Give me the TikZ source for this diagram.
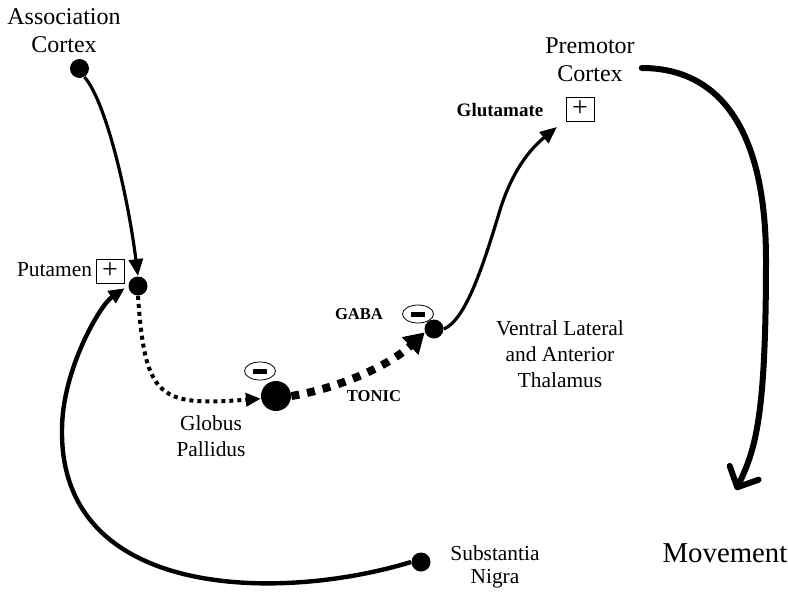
\documentclass[tikz,border=0pt]{standalone}
\usepackage{fontspec}
\setmainfont{Liberation Serif}
\usetikzlibrary{arrows.meta,shapes.geometric}

\begin{document}
\begin{tikzpicture}[x=0.5pt, y=-0.5pt,
  cell/.style={circle, fill, inner sep=0pt, minimum size=9.5pt},
  bigcell/.style={cell, minimum size=15pt},
  ctx/.style={align=center, font=\fontsize{12}{14}\selectfont},
  area/.style={align=center, font=\fontsize{10.7}{13}\selectfont},
  tag/.style={font=\fontsize{8.3}{10}\selectfont\bfseries},
  excite/.style={draw, line width=0.5pt, inner sep=0pt, minimum width=14pt, minimum height=12pt, font=\fontsize{14}{14}\selectfont},
  inhibit/.style={draw, ellipse, line width=0.4pt, inner sep=0pt, minimum width=15.5pt, minimum height=9pt},
  axon/.style={line width=1.6pt, -{Triangle[length=8.5pt,width=7pt]}}
]
\useasboundingbox (0,0) rectangle (788,595);
% cortex and nuclei
\node[ctx] (assoc) at (64,31) {Association\\Cortex};
\node[cell] (ac) at (79.5,68.5) {};
\node[area] (putlbl) at (54.5,270) {Putamen};
\node[excite] (putplus) at (110,271) {+};
\node[cell] (put) at (138,286) {};
\node[bigcell] (gp) at (276,396) {};
\node[inhibit] (gpminus) at (260,371) {\rule[-1.25pt]{7pt}{2.5pt}};
\node[area] (gplbl) at (211,436) {Globus\\Pallidus};
\node[tag] (tonic) at (374,396) {TONIC};
\node[tag] (gaba) at (359,314) {GABA};
\node[inhibit] (thminus) at (418,314) {\rule[-1.25pt]{7pt}{2.5pt}};
\node[cell] (th) at (434,329) {};
\node[area] (thlbl) at (560,354) {Ventral Lateral\\and Anterior\\Thalamus};
\node[tag, font=\fontsize{9.5}{11}\selectfont\bfseries] (glu) at (500,110) {Glutamate};
\node[excite] (pmplus) at (580,109) {+};
\node[ctx] (pm) at (590,60) {Premotor\\Cortex};
\node[font=\fontsize{14.4}{16}\selectfont] (mv) at (725,553) {Movement};
\node[cell] (sn) at (421,562) {};
\node[area, font=\fontsize{10.7}{11.5}\selectfont] (snlbl) at (495,567) {Substantia\\Nigra};
\coordinate (glutip) at (557,127);
\coordinate (mvtip) at (736,490);

% pathways
\draw[axon] (ac.-60) .. controls (105,100) and (127,190) .. (put.north);
\draw[line width=2pt, dash pattern=on 2pt off 2pt, -{Triangle[length=7.5pt,width=6.5pt]}]
  (put.south) .. controls (145,400) and (160,406) .. (gp.190);
\draw[line width=4pt, dash pattern=on 4pt off 4pt, -{Triangle[length=10pt,width=11.5pt]}]
  (gp.east) .. controls (340,388) and (390,365) .. (th.200);
\draw[axon] (th.east) .. controls (465,320) and (482,270) .. (500,210)
  .. controls (514,165) and (535,145) .. (glutip);
\draw[line width=3pt, line cap=round, -{Straight Barb[length=8pt,width=16pt,round]}]
  ([yshift=-4pt]pm.east) .. controls (720,68) and (766,130) .. (766,260)
  .. controls (766,420) and (755,450) .. (mvtip);
\draw[line width=2.2pt, shorten >=2pt, -{Triangle[length=8pt,width=7pt]}]
  (sn.west) .. controls (280,602) and (60,600) .. (62,430)
  .. controls (62,370) and (100,305) .. (put.west);
\end{tikzpicture}
\end{document}
